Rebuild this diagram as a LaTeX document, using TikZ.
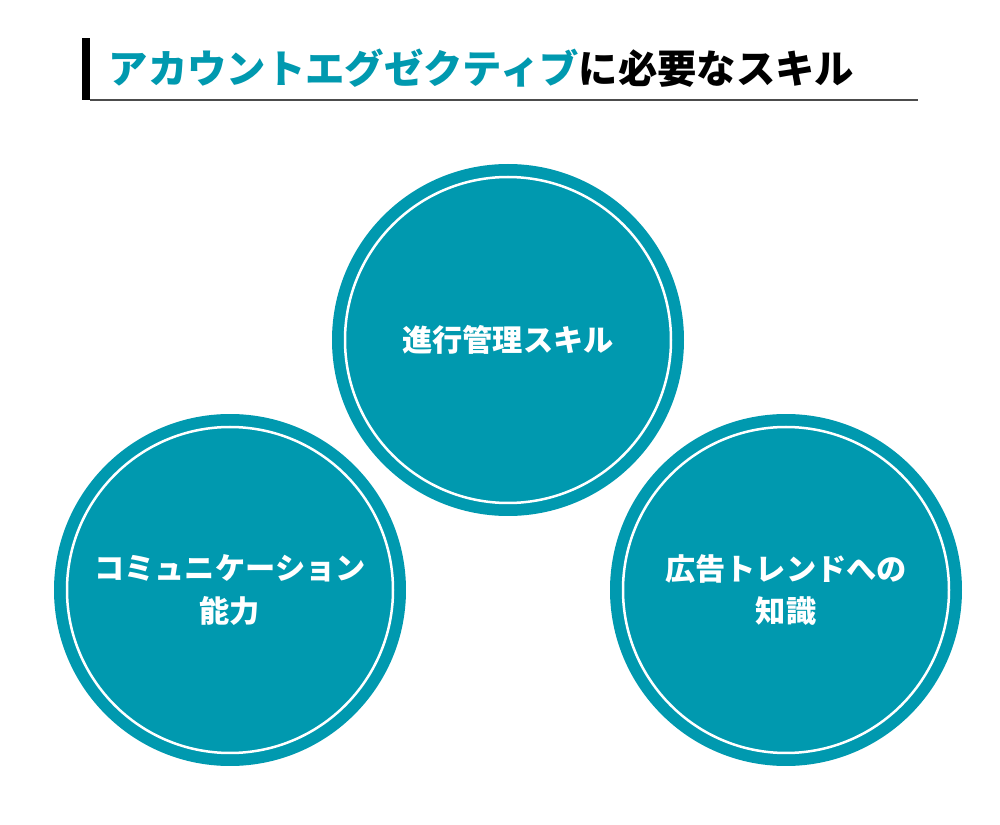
\documentclass[tikz,border=0pt]{standalone}
\usepackage{fontspec}
\newfontfamily\cjk{Noto Sans CJK JP}
\definecolor{teal1}{HTML}{0099AF}
\begin{document}
\begin{tikzpicture}[x=0.1mm,y=-0.1mm,
  disk/.style={circle,fill=teal1,minimum size=35.2mm,inner sep=0pt},
  lbl/.style={text=white,font=\cjk\bfseries\fontsize{8.6pt}{12pt}\selectfont,align=center}]
\useasboundingbox[fill=white] (0,0) rectangle (1000,825);
\fill[black] (82,38) rectangle (90,100) coordinate (barEnd);
\draw[line width=0.12mm,black!70] (90,100) coordinate (u1) -- (918,100) coordinate (u2);
\node[anchor=west,inner sep=0pt,font=\cjk\bfseries\fontsize{11.2pt}{13pt}\selectfont] (title) at (108,68)
  {\textcolor{teal1}{アカウントエグゼクティブ}に必要なスキル};
\foreach \n/\x/\y/\t in {top/508/340/{進行管理スキル},left/230/590/{コミュニケーション\\能力},right/786/590/{広告トレンドへの\\知識}}{
  \node[disk] (\n) at (\x,\y) {};
  \draw[white,line width=0.25mm] (\n) circle[radius=163];
  \node[lbl] (\n t) at (\n) {\t};
}
\end{tikzpicture}
\end{document}
